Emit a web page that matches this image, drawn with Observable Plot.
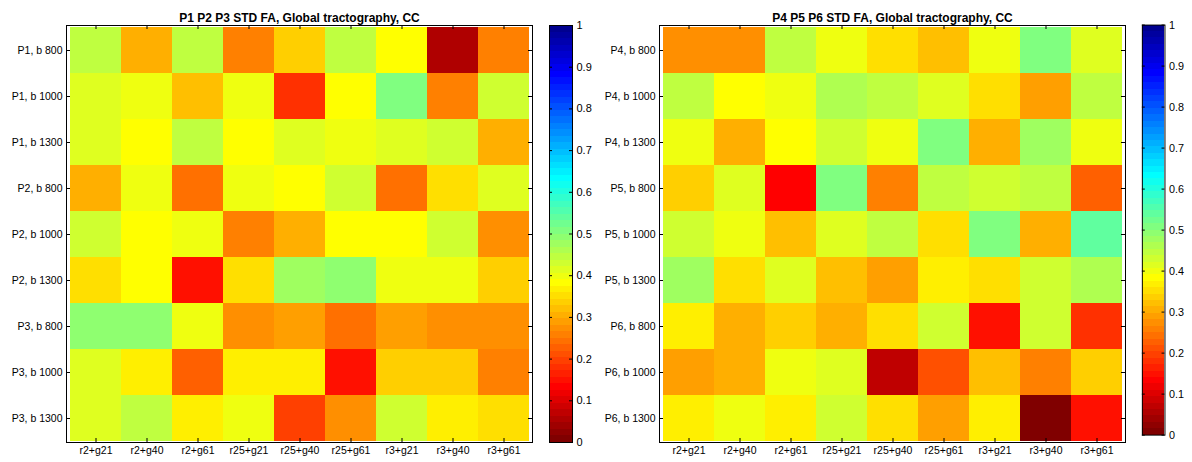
<!DOCTYPE html>
<html><head><meta charset="utf-8">
<script src="https://cdn.jsdelivr.net/npm/d3@7"></script>
<script src="https://cdn.jsdelivr.net/npm/@observablehq/plot@0.6"></script>
<style>
html,body{margin:0;padding:0;background:#fff;}
#root{position:relative;width:1192px;height:462px;overflow:hidden;background:#fff;}
#root > div{position:absolute;top:0;}
</style></head><body><div id="root"></div>
<script>
const columns = ["r2+g21","r2+g40","r2+g61","r25+g21","r25+g40","r25+g61","r3+g21","r3+g40","r3+g61"];
const rowsLeft = ["P1, b 800","P1, b 1000","P1, b 1300","P2, b 800","P2, b 1000","P2, b 1300","P3, b 800","P3, b 1000","P3, b 1300"];
const rowsRight = ["P4, b 800","P4, b 1000","P4, b 1300","P5, b 800","P5, b 1000","P5, b 1300","P6, b 800","P6, b 1000","P6, b 1300"];
const titleLeft = "P1 P2 P3 STD FA, Global tractography, CC";
const titleRight = "P4 P5 P6 STD FA, Global tractography, CC";
const valuesLeft = [
  [0.453, 0.297, 0.453, 0.25, 0.337, 0.45, 0.39, 0.047, 0.25],
  [0.42, 0.406, 0.325, 0.406, 0.172, 0.375, 0.5, 0.262, 0.437],
  [0.42, 0.39, 0.453, 0.375, 0.42, 0.406, 0.42, 0.437, 0.305],
  [0.305, 0.406, 0.235, 0.406, 0.39, 0.437, 0.235, 0.344, 0.42],
  [0.437, 0.39, 0.406, 0.25, 0.305, 0.375, 0.375, 0.437, 0.278],
  [0.357, 0.39, 0.156, 0.35, 0.469, 0.485, 0.40, 0.40, 0.337],
  [0.485, 0.485, 0.406, 0.266, 0.29, 0.242, 0.29, 0.274, 0.278],
  [0.41, 0.36, 0.219, 0.365, 0.365, 0.156, 0.337, 0.337, 0.262],
  [0.42, 0.445, 0.37, 0.40, 0.188, 0.266, 0.437, 0.36, 0.347]
];
const valuesRight = [
  [0.281, 0.281, 0.453, 0.406, 0.35, 0.32, 0.406, 0.5, 0.42],
  [0.445, 0.39, 0.406, 0.46, 0.453, 0.41, 0.35, 0.29, 0.453],
  [0.406, 0.305, 0.39, 0.43, 0.40, 0.515, 0.297, 0.477, 0.40],
  [0.337, 0.42, 0.14, 0.515, 0.258, 0.453, 0.43, 0.453, 0.219],
  [0.43, 0.406, 0.325, 0.42, 0.445, 0.35, 0.5, 0.305, 0.54],
  [0.469, 0.35, 0.42, 0.325, 0.29, 0.37, 0.35, 0.43, 0.46],
  [0.36, 0.297, 0.337, 0.297, 0.347, 0.437, 0.156, 0.43, 0.172],
  [0.29, 0.305, 0.40, 0.42, 0.07, 0.211, 0.328, 0.25, 0.337],
  [0.36, 0.406, 0.37, 0.437, 0.347, 0.293, 0.37, 0.01, 0.146]
];
const colorbarTicks = [0, 0.1, 0.2, 0.3, 0.4, 0.5, 0.6, 0.7, 0.8, 0.9, 1];

const FONT = '"Liberation Sans", Arial, Helvetica, sans-serif';

// MATLAB jet(64), flipped (0 = dark red, 1 = dark blue)
function jet64() {
  const m = 64, n = 16;
  const u = [...d3.range(1, n + 1).map(i => i / n), ...Array(n - 1).fill(1), ...d3.range(n, 0, -1).map(i => i / n)];
  const J = Array.from({length: m}, () => [0, 0, 0]);
  u.forEach((v, k) => {
    const g = 8 + k, r = g + 16, b = g - 16;
    if (g >= 0 && g < m) J[g][1] = v;
    if (r >= 0 && r < m) J[r][0] = v;
    if (b >= 0 && b < m) J[b][2] = v;
  });
  return J.map(([r, g, b]) => d3.rgb(Math.round(r * 255), Math.round(g * 255), Math.round(b * 255)).formatHex());
}
const palette = jet64().reverse();
const colorScale = {type: "threshold", domain: d3.range(1, 64).map(i => i / 64), range: palette};

const PW = 466, PH = 417;
const LABEL = 10.5;

function heatmap(rows, values, title) {
  const data = rows.flatMap((r, i) => columns.map((c, j) => ({row: r, col: c, value: values[i][j]})));
  return Plot.plot({
    width: 540, height: 462,
    marginLeft: 66, marginRight: 8, marginTop: 25, marginBottom: 20,
    style: {background: "transparent", fontFamily: FONT, fontSize: "10px", color: "#000", overflow: "visible"},
    x: {domain: columns, padding: 0, axis: null},
    y: {domain: rows, padding: 0, axis: null},
    color: colorScale,
    marks: [
      Plot.cell(data, {x: "col", y: "row", fill: "value", shapeRendering: "crispEdges"}),
      Plot.tickX(columns, {x: d => d, insetBottom: PH - 4, stroke: "#000"}),
      Plot.tickX(columns, {x: d => d, insetTop: PH - 4, stroke: "#000"}),
      Plot.tickY(rows, {y: d => d, insetRight: PW - 4, stroke: "#000"}),
      Plot.tickY(rows, {y: d => d, insetLeft: PW - 4, stroke: "#000"}),
      Plot.frame({stroke: "#000"}),
      Plot.text(columns, {x: d => d, text: d => d, frameAnchor: "bottom", dy: 11, fontSize: LABEL, fill: "#000"}),
      Plot.text(rows, {y: d => d, text: d => d, frameAnchor: "left", textAnchor: "end", dx: -4, fontSize: LABEL, fill: "#000"}),
      Plot.text([title], {text: d => d, frameAnchor: "top", dy: -12.5, fontWeight: "bold", fontSize: 12, fill: "#000"})
    ]
  });
}

function colorbar() {
  const levels = d3.range(64);
  const bw = 23;
  return Plot.plot({
    width: 60, height: 462,
    marginLeft: 9, marginRight: 28, marginTop: 25, marginBottom: 20,
    style: {background: "transparent", fontFamily: FONT, fontSize: "10px", color: "#000", overflow: "visible"},
    y: {domain: [0, 1], axis: null},
    color: colorScale,
    marks: [
      Plot.rect(levels, {y1: i => i / 64, y2: i => (i + 1) / 64, fill: i => (i + 0.5) / 64, shapeRendering: "crispEdges"}),
      Plot.tickY(colorbarTicks, {y: d => d, insetRight: bw - 3, stroke: "#000"}),
      Plot.tickY(colorbarTicks, {y: d => d, insetLeft: bw - 3, stroke: "#000"}),
      Plot.frame({stroke: "#000"}),
      Plot.text(colorbarTicks, {y: d => d, text: d => String(d), frameAnchor: "right", textAnchor: "start", dx: 4, fontSize: 11, fill: "#000"})
    ]
  });
}

const root = document.getElementById("root");
function place(node, left) {
  const div = document.createElement("div");
  div.style.left = left + "px";
  div.appendChild(node);
  root.appendChild(div);
}
place(heatmap(rowsLeft, valuesLeft, titleLeft), 0);
place(colorbar(), 540);
place(heatmap(rowsRight, valuesRight, titleRight), 593);
place(colorbar(), 1133);
</script></body></html>
